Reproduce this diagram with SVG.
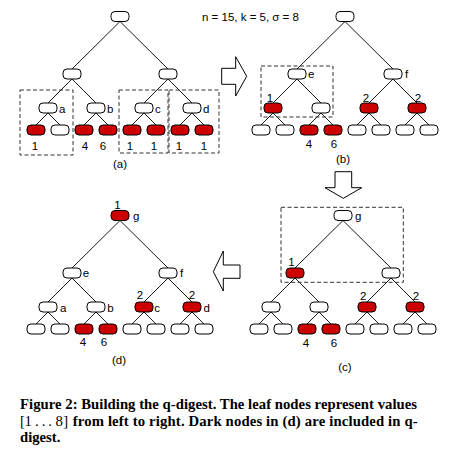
<svg xmlns="http://www.w3.org/2000/svg" xmlns:xlink="http://www.w3.org/1999/xlink" width="455" height="459" viewBox="0 0 455 459">
<style>
.n{fill:#fff;stroke:#000;stroke-width:1}
.r{fill:#cc0000}
.e{stroke:#000;stroke-width:0.9;fill:none}
.box{fill:none;stroke:#333;stroke-width:1;stroke-dasharray:4 2.5}
.t{font-family:"Liberation Sans",Arial,sans-serif;font-size:11.5px;fill:#000}
.m{text-anchor:middle}
.arrow{fill:#fff;stroke:#000;stroke-width:1}
.cap{font-family:"Liberation Serif","Times New Roman",serif;font-size:14.7px;font-weight:bold;fill:#000}
.capn{font-family:"Liberation Serif","Times New Roman",serif;font-size:14.7px;font-weight:normal;fill:#000}
</style>
<defs>
<path id="edges" d="M120,21.5 L72,69 M120,21.5 L168,69 M72,79 L48,103 M72,79 L96,103 M168,79 L144,103 M168,79 L192,103 M48,113 L36,125 M48,113 L60,125 M96,113 L84,125 M96,113 L108,125 M144,113 L132,125 M144,113 L156,125 M192,113 L180,125 M192,113 L204,125"/>
</defs>
<g id="connectors">
<use xlink:href="#edges" href="#edges" class="e"/>
<use xlink:href="#edges" href="#edges" class="e" transform="translate(225,0)"/>
<use xlink:href="#edges" href="#edges" class="e" transform="translate(223,199)"/>
<use xlink:href="#edges" href="#edges" class="e" transform="translate(0,199)"/>
</g>

<!-- Tree (a) -->
<g id="tree-a">
<g id="a-root"><rect class="n" x="111" y="11.5" width="18" height="10" rx="4"/></g>
<g id="a-l1-0"><rect class="n" x="63" y="69" width="18" height="10" rx="4"/></g>
<g id="a-l1-1"><rect class="n" x="159" y="69" width="18" height="10" rx="4"/></g>
<g id="a-a"><rect class="n" x="39" y="103" width="18" height="10" rx="4"/><text class="t" x="59" y="112.5">a</text></g>
<g id="a-b"><rect class="n" x="87" y="103" width="18" height="10" rx="4"/><text class="t" x="107" y="112.5">b</text></g>
<g id="a-c"><rect class="n" x="135" y="103" width="18" height="10" rx="4"/><text class="t" x="155" y="112.5">c</text></g>
<g id="a-d"><rect class="n" x="183" y="103" width="18" height="10" rx="4"/><text class="t" x="203" y="112.5">d</text></g>
<g id="a-leaf1"><rect class="n r" x="27" y="125" width="18" height="10" rx="4"/><text class="t m" x="35" y="149.5">1</text></g>
<g id="a-leaf2"><rect class="n" x="51" y="125" width="18" height="10" rx="4"/></g>
<g id="a-leaf3"><rect class="n r" x="75" y="125" width="18" height="10" rx="4"/><text class="t m" x="85" y="149.5">4</text></g>
<g id="a-leaf4"><rect class="n r" x="99" y="125" width="18" height="10" rx="4"/><text class="t m" x="103" y="149.5">6</text></g>
<g id="a-leaf5"><rect class="n r" x="123" y="125" width="18" height="10" rx="4"/><text class="t m" x="130" y="149.5">1</text></g>
<g id="a-leaf6"><rect class="n r" x="147" y="125" width="18" height="10" rx="4"/><text class="t m" x="154" y="149.5">1</text></g>
<g id="a-leaf7"><rect class="n r" x="171" y="125" width="18" height="10" rx="4"/><text class="t m" x="179" y="149.5">1</text></g>
<g id="a-leaf8"><rect class="n r" x="195" y="125" width="18" height="10" rx="4"/><text class="t m" x="204" y="149.5">1</text></g>
<rect class="box" x="20" y="90" width="53" height="65"/>
<rect class="box" x="119" y="90" width="49" height="63"/>
<rect class="box" x="169" y="90" width="50" height="63"/>
<text class="t m" x="120" y="167.5">(a)</text>
</g>

<text class="t" x="202" y="20.5" font-size="11">n = 15, k = 5, σ = 8</text>

<!-- Tree (b) -->
<g id="tree-b" transform="translate(225,0)">
<g id="b-root"><rect class="n" x="111" y="11.5" width="18" height="10" rx="4"/></g>
<g id="b-e"><rect class="n" x="63" y="69" width="18" height="10" rx="4"/><text class="t" x="83" y="78">e</text></g>
<g id="b-f"><rect class="n" x="159" y="69" width="18" height="10" rx="4"/><text class="t" x="180" y="78">f</text></g>
<g id="b-l2-0"><rect class="n r" x="39" y="103" width="18" height="10" rx="4"/><text class="t m" x="45" y="101.5">1</text></g>
<g id="b-l2-1"><rect class="n" x="87" y="103" width="18" height="10" rx="4"/></g>
<g id="b-l2-2"><rect class="n r" x="135" y="103" width="18" height="10" rx="4"/><text class="t m" x="141" y="101.5">2</text></g>
<g id="b-l2-3"><rect class="n r" x="183" y="103" width="18" height="10" rx="4"/><text class="t m" x="193" y="101.5">2</text></g>
<g id="b-leaf1"><rect class="n" x="27" y="125" width="18" height="10" rx="4"/></g>
<g id="b-leaf2"><rect class="n" x="51" y="125" width="18" height="10" rx="4"/></g>
<g id="b-leaf3"><rect class="n r" x="75" y="125" width="18" height="10" rx="4"/><text class="t m" x="84" y="148">4</text></g>
<g id="b-leaf4"><rect class="n r" x="99" y="125" width="18" height="10" rx="4"/><text class="t m" x="109" y="148">6</text></g>
<g id="b-leaf5"><rect class="n" x="123" y="125" width="18" height="10" rx="4"/></g>
<g id="b-leaf6"><rect class="n" x="147" y="125" width="18" height="10" rx="4"/></g>
<g id="b-leaf7"><rect class="n" x="171" y="125" width="18" height="10" rx="4"/></g>
<g id="b-leaf8"><rect class="n" x="195" y="125" width="18" height="10" rx="4"/></g>
<rect class="box" x="36" y="66" width="72" height="51"/>
<text class="t m" x="118" y="162.5">(b)</text>
</g>

<!-- Tree (c) -->
<g id="tree-c" transform="translate(223,199)">
<g id="c-g"><rect class="n" x="111" y="11.5" width="18" height="10" rx="4"/><text class="t" x="132" y="20.5">g</text></g>
<g id="c-l1-0"><rect class="n r" x="63" y="69" width="18" height="10" rx="4"/><text class="t m" x="68.5" y="67">1</text></g>
<g id="c-l1-1"><rect class="n" x="159" y="69" width="18" height="10" rx="4"/></g>
<g id="c-l2-0"><rect class="n" x="39" y="103" width="18" height="10" rx="4"/></g>
<g id="c-l2-1"><rect class="n" x="87" y="103" width="18" height="10" rx="4"/></g>
<g id="c-l2-2"><rect class="n r" x="135" y="103" width="18" height="10" rx="4"/><text class="t m" x="140.3" y="101">2</text></g>
<g id="c-l2-3"><rect class="n r" x="183" y="103" width="18" height="10" rx="4"/><text class="t m" x="193" y="101">2</text></g>
<g id="c-leaf1"><rect class="n" x="27" y="125" width="18" height="10" rx="4"/></g>
<g id="c-leaf2"><rect class="n" x="51" y="125" width="18" height="10" rx="4"/></g>
<g id="c-leaf3"><rect class="n r" x="75" y="125" width="18" height="10" rx="4"/><text class="t m" x="83" y="147.7">4</text></g>
<g id="c-leaf4"><rect class="n r" x="99" y="125" width="18" height="10" rx="4"/><text class="t m" x="111" y="147.7">6</text></g>
<g id="c-leaf5"><rect class="n" x="123" y="125" width="18" height="10" rx="4"/></g>
<g id="c-leaf6"><rect class="n" x="147" y="125" width="18" height="10" rx="4"/></g>
<g id="c-leaf7"><rect class="n" x="171" y="125" width="18" height="10" rx="4"/></g>
<g id="c-leaf8"><rect class="n" x="195" y="125" width="18" height="10" rx="4"/></g>
<rect class="box" x="58" y="8.3" width="122.3" height="75"/>
<text class="t m" x="122" y="171.7">(c)</text>
</g>

<!-- Tree (d) -->
<g id="tree-d" transform="translate(0,199)">
<g id="d-g"><rect class="n r" x="111" y="11.5" width="18" height="10" rx="4"/><text class="t m" x="117.5" y="9.5">1</text><text class="t" x="133" y="20.5">g</text></g>
<g id="d-e"><rect class="n" x="63" y="69" width="18" height="10" rx="4"/><text class="t" x="82.7" y="78">e</text></g>
<g id="d-f"><rect class="n" x="159" y="69" width="18" height="10" rx="4"/><text class="t" x="180" y="78">f</text></g>
<g id="d-a"><rect class="n" x="39" y="103" width="18" height="10" rx="4"/><text class="t" x="60" y="112.7">a</text></g>
<g id="d-b"><rect class="n" x="87" y="103" width="18" height="10" rx="4"/><text class="t" x="107.3" y="112.7">b</text></g>
<g id="d-c"><rect class="n r" x="135" y="103" width="18" height="10" rx="4"/><text class="t m" x="140" y="100">2</text><text class="t" x="154.3" y="112.7">c</text></g>
<g id="d-d"><rect class="n r" x="183" y="103" width="18" height="10" rx="4"/><text class="t m" x="192" y="100">2</text><text class="t" x="203.5" y="112.7">d</text></g>
<g id="d-leaf1"><rect class="n" x="27" y="125" width="18" height="10" rx="4"/></g>
<g id="d-leaf2"><rect class="n" x="51" y="125" width="18" height="10" rx="4"/></g>
<g id="d-leaf3"><rect class="n r" x="75" y="125" width="18" height="10" rx="4"/><text class="t m" x="83" y="147">4</text></g>
<g id="d-leaf4"><rect class="n r" x="99" y="125" width="18" height="10" rx="4"/><text class="t m" x="104" y="147">6</text></g>
<g id="d-leaf5"><rect class="n" x="123" y="125" width="18" height="10" rx="4"/></g>
<g id="d-leaf6"><rect class="n" x="147" y="125" width="18" height="10" rx="4"/></g>
<g id="d-leaf7"><rect class="n" x="171" y="125" width="18" height="10" rx="4"/></g>
<g id="d-leaf8"><rect class="n" x="195" y="125" width="18" height="10" rx="4"/></g>
<text class="t m" x="119" y="165.3">(d)</text>
</g>

<!-- Arrows -->
<g id="arrows">
<polygon class="arrow" points="221.7,68.3 235.7,68.3 235.7,56.7 246.7,76.3 235.7,96 235.7,84.3 221.7,84.3"/>
<polygon class="arrow" points="335,171.7 351.7,171.7 351.7,187.7 361.7,187.7 343.3,198.3 325,187.7 335,187.7"/>
<polygon class="arrow" points="240,265 223.3,265 223.3,251 213.3,271.7 223.3,291 223.3,278.3 240,278.3"/>
</g>

<!-- Caption -->
<g id="caption">
<text class="cap" x="20" y="409" textLength="397" lengthAdjust="spacing">Figure 2: Building the q-digest. The leaf nodes represent values</text>
<text class="capn" x="20 24.5 35 41.7 48.3 55.5 63.3" y="426">[1...8]</text>
<text class="cap" x="72.7" y="426" textLength="345" lengthAdjust="spacing">from left to right. Dark nodes in (d) are included in q-</text>
<text class="cap" x="20" y="442">digest.</text>
</g>
</svg>
